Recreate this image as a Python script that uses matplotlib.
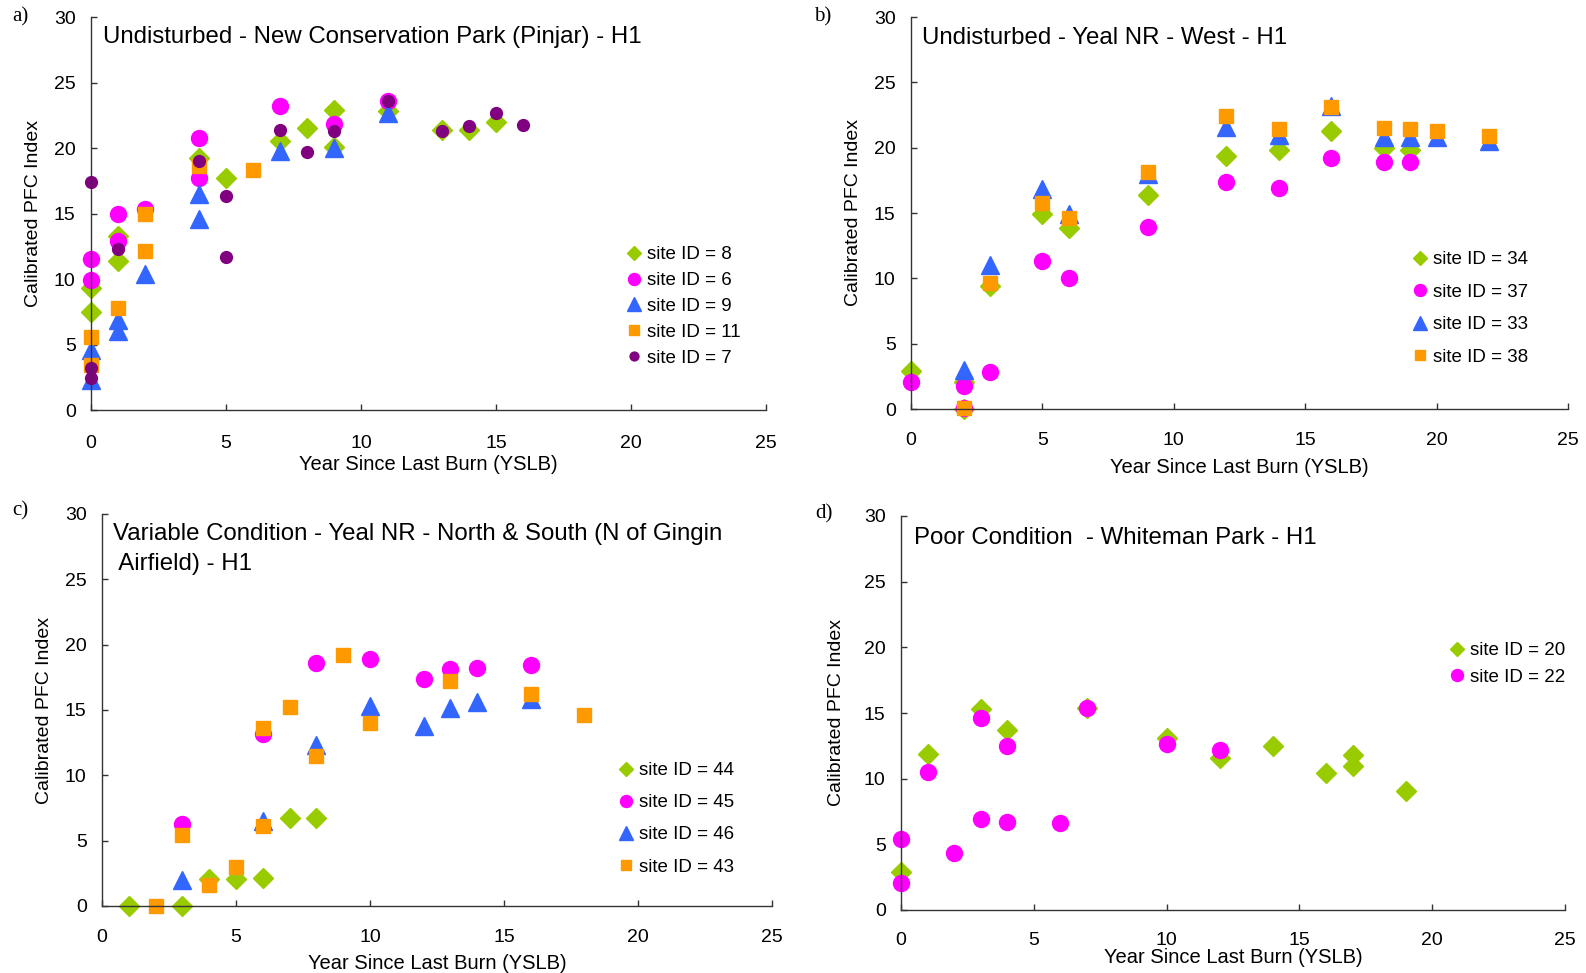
import matplotlib.pyplot as plt

plt.rcParams['font.family'] = ['Liberation Sans', 'DejaVu Sans']

GREEN = '#99CC00'
MAGENTA = '#FF00FF'
BLUE = '#3366FF'
ORANGE = '#FF9900'
PURPLE = '#800080'

# a) Undisturbed - Pinjar
a_x8 = [0, 0, 1, 1, 4, 5, 7, 8, 9, 9, 11, 13, 14, 15]
a_y8 = [9.3, 7.5, 13.3, 11.4, 19.2, 17.7, 20.5, 21.5, 22.9, 20.1, 22.8, 21.35, 21.35, 22.0]
a_x6 = [0, 0, 1, 1, 2, 4, 4, 7, 9, 11]
a_y6 = [11.55, 9.9, 15.0, 12.9, 15.35, 20.8, 17.7, 23.2, 21.8, 23.55]
a_x9 = [0, 0, 1, 1, 2, 4, 4, 7, 9, 11]
a_y9 = [4.6, 2.3, 6.9, 6.0, 10.4, 16.5, 14.6, 19.8, 20.0, 22.7]
a_x11 = [0, 0, 1, 2, 2, 4, 6]
a_y11 = [5.6, 3.4, 7.8, 15.0, 12.1, 18.6, 18.3]
a_x7 = [0, 0, 0, 1, 4, 5, 5, 7, 8, 9, 11, 13, 14, 15, 16]
a_y7 = [17.4, 3.2, 2.45, 12.3, 19.0, 16.3, 11.7, 21.4, 19.7, 21.3, 23.6, 21.3, 21.65, 22.7, 21.75]

# b) Undisturbed - Yeal NR West
b_x34 = [0, 2, 2, 3, 5, 6, 9, 12, 14, 16, 18, 19]
b_y34 = [2.9, 2.05, 0.0, 9.45, 14.9, 13.85, 16.4, 19.4, 19.85, 21.3, 20.0, 19.8]
b_x37 = [0, 2, 2, 3, 5, 6, 9, 12, 14, 16, 18, 19]
b_y37 = [2.05, 1.75, 0.1, 2.85, 11.3, 10.0, 13.9, 17.4, 16.9, 19.2, 18.9, 18.9]
b_x33 = [2, 3, 5, 6, 9, 12, 14, 16, 18, 19, 20, 22]
b_y33 = [3.0, 11.0, 16.85, 14.9, 17.95, 21.6, 21.0, 23.2, 20.8, 20.85, 20.85, 20.5]
b_x38 = [2, 3, 5, 6, 9, 12, 14, 16, 18, 19, 20, 22]
b_y38 = [0.05, 9.65, 15.75, 14.65, 18.1, 22.45, 21.4, 23.15, 21.5, 21.4, 21.25, 20.9]

# c) Variable condition - Yeal NR North & South
c_x44 = [1, 3, 4, 5, 6, 7, 8]
c_y44 = [0.0, 0.0, 2.05, 2.05, 2.15, 6.7, 6.7]
c_x45 = [3, 6, 8, 10, 12, 13, 14, 16]
c_y45 = [6.3, 13.15, 18.6, 18.9, 17.4, 18.1, 18.2, 18.45]
c_x46 = [3, 6, 8, 10, 12, 13, 14, 16]
c_y46 = [2.0, 6.5, 12.3, 15.3, 13.75, 15.15, 15.6, 15.85]
c_x43 = [2, 3, 4, 5, 6, 6, 7, 8, 9, 10, 13, 16, 18]
c_y43 = [0.0, 5.4, 1.6, 3.0, 6.15, 13.65, 15.2, 11.5, 19.2, 14.0, 17.25, 16.2, 14.6]

# d) Poor condition - Whiteman Park
d_x20 = [0, 1, 3, 4, 7, 10, 12, 14, 16, 17, 17, 19]
d_y20 = [2.9, 11.9, 15.3, 13.7, 15.4, 13.1, 11.6, 12.5, 10.45, 11.8, 11.0, 9.05]
d_x22 = [0, 0, 1, 2, 3, 3, 4, 4, 6, 7, 10, 12]
d_y22 = [5.4, 2.05, 10.5, 4.35, 14.65, 6.95, 12.45, 6.7, 6.6, 15.4, 12.65, 12.2]

STYLE = {
    'D': dict(marker='D', color=GREEN, ms=10),
    'o': dict(marker='o', color=MAGENTA, ms=11.5),
    '^': dict(marker='^', color=BLUE, ms=12.5),
    's': dict(marker='s', color=ORANGE, ms=9.5),
    'p': dict(marker='o', color=PURPLE, ms=8.5),
}

panels = [
    dict(rect=[91, 766, 410, 17], letter='a)', lpos=(12, 17),
         title='Undisturbed - New Conservation Park (Pinjar) - H1', tpos=(103, 37),
         series=[(a_x8, a_y8, 'D', 'site ID = 8'), (a_x6, a_y6, 'o', 'site ID = 6'),
                 (a_x9, a_y9, '^', 'site ID = 9'), (a_x11, a_y11, 's', 'site ID = 11'),
                 (a_x7, a_y7, 'p', 'site ID = 7')],
         leg=(625, 246), lsp=0.47, ylab=-0.072, xlab=-0.115, xpad=18),
    dict(rect=[911, 1568, 409, 17], letter='b)', lpos=(814, 17),
         title='Undisturbed - Yeal NR - West - H1', tpos=(922, 38),
         series=[(b_x34, b_y34, 'D', 'site ID = 34'), (b_x37, b_y37, 'o', 'site ID = 37'),
                 (b_x33, b_y33, '^', 'site ID = 33'), (b_x38, b_y38, 's', 'site ID = 38')],
         leg=(1411, 251), lsp=0.82, ylab=-0.075, xlab=-0.124, xpad=16.5),
    dict(rect=[102, 772, 906, 514], letter='c)', lpos=(12, 511),
         title='Variable Condition - Yeal NR - North & South (N of Gingin\n Airfield) - H1',
         tpos=(113, 549),
         series=[(c_x44, c_y44, 'D', 'site ID = 44'), (c_x45, c_y45, 'o', 'site ID = 45'),
                 (c_x46, c_y46, '^', 'site ID = 46'), (c_x43, c_y43, 's', 'site ID = 43')],
         leg=(617, 762), lsp=0.8, ylab=-0.073, xlab=-0.122, xpad=16.5),
    dict(rect=[901, 1565, 910, 516], letter='d)', lpos=(815, 514),
         title='Poor Condition  - Whiteman Park - H1', tpos=(914, 538),
         series=[(d_x20, d_y20, 'D', 'site ID = 20'), (d_x22, d_y22, 'o', 'site ID = 22')],
         leg=(1448, 642), lsp=0.5, ylab=-0.085, xlab=-0.097, xpad=16),
]

W, H = 1586, 973
fig = plt.figure(figsize=(W / 100, H / 100), dpi=100)

for p in panels:
    l, r, b, t = p['rect']
    ax = fig.add_axes([l / W, 1 - b / H, (r - l) / W, (b - t) / H])
    for xs, ys, key, label in p['series']:
        st = STYLE[key]
        ax.plot(xs, ys, linestyle='none', marker=st['marker'], color=st['color'],
                ms=st['ms'], mec=st['color'], label=label, clip_on=False)
    ax.set_xlim(0, 25)
    ax.set_ylim(0, 30)
    ax.set_xticks(range(0, 26, 5))
    ax.set_yticks(range(0, 31, 5))
    for s in ['top', 'right']:
        ax.spines[s].set_visible(False)
    for s in ['left', 'bottom']:
        ax.spines[s].set_color('#333333')
        ax.spines[s].set_linewidth(1.0)
    ax.tick_params(axis='both', direction='in', length=4, width=1, color='#333333',
                   labelsize=14)
    ax.tick_params(axis='x', pad=p['xpad'])
    ax.tick_params(axis='y', pad=11)
    ax.set_ylabel('Calibrated PFC Index', fontsize=14)
    ax.set_xlabel('Year Since Last Burn (YSLB)', fontsize=14.5)
    ax.yaxis.set_label_coords(p['ylab'], 0.5)
    ax.xaxis.set_label_coords(0.5, p['xlab'])

    lx, ly = p['leg']
    ax.legend(loc='upper left', bbox_to_anchor=(lx / W, 1 - ly / H),
              bbox_transform=fig.transFigure, frameon=False, fontsize=13.5,
              handlelength=1.0, handletextpad=0.15, borderpad=0, borderaxespad=0,
              labelspacing=p['lsp'], markerscale=0.75)

    tx, ty = p['tpos']
    fig.text(tx / W, 1 - ty / H, p['title'], fontsize=17.3, ha='left', va='center',
             linespacing=1.45)
    px, py = p['lpos']
    fig.text(px / W, 1 - py / H, p['letter'], fontsize=15, ha='left', va='center',
             family='Liberation Serif')

fig.savefig('out.png', dpi=100)
